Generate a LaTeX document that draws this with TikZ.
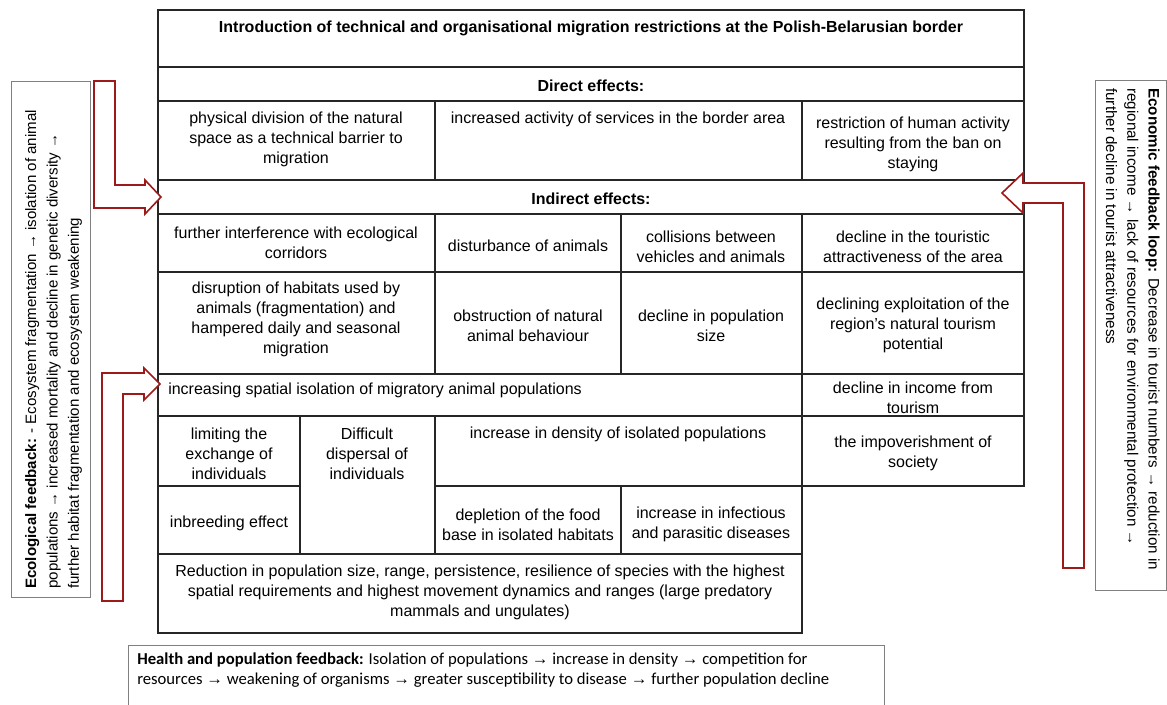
\documentclass[tikz,border=0pt]{standalone}
\usepackage{fontspec}
\setmainfont{Liberation Sans}
\newfontfamily\narrowfont{Carlito}
\newfontfamily\arrowfont{Liberation Sans}
\usepackage{tikz}
\usetikzlibrary{positioning}
\definecolor{arrowred}{HTML}{9C1A1A}
\definecolor{boxgray}{HTML}{808080}
\newcommand{\fbarrow}{{\arrowfont →}}

\begin{document}
\begin{tikzpicture}[x=0.75pt,y=-0.75pt,
	cellline/.style={line width=0.9pt,black!85},
	txt/.style={font=\fontsize{12}{15}\selectfont,align=center,inner sep=0pt,yshift=-1pt},
	hdr/.style={txt,font=\fontsize{12}{15}\selectfont\bfseries},
	fbbox/.style={draw=boxgray,line width=0.75pt},
	fbtext/.style={font=\fontsize{11.3}{16}\selectfont,align=left,inner sep=0pt},
	bentarrow/.style={draw=arrowred,line width=1.2pt,fill=white,line join=miter}]
	\path[use as bounding box,fill=white] (0,0) rectangle (1167,704);
	% table frame and grid
	\draw[cellline] (158,10) -- (1024,10) -- (1024,486) -- (802,486) -- (802,633) -- (158,633) -- cycle;
	\foreach \y in {67,101,180,214,272,374,416}
		\draw[cellline] (158,\y) -- (1024,\y);
	\draw[cellline] (158,486) -- (300,486) (435,486) -- (802,486);
	\draw[cellline] (158,554) -- (802,554);
	\draw[cellline] (435,101) -- (435,180) (802,101) -- (802,180);
	\draw[cellline] (435,214) -- (435,374) (621,214) -- (621,374) (802,214) -- (802,486);
	\draw[cellline] (300,416) -- (300,554) (435,416) -- (435,554) (621,486) -- (621,554);
	% table texts
	\node[hdr] (title) at (591,27) {Introduction of technical and organisational migration restrictions at the Polish-Belarusian border};
	\node[hdr] (direct) at (591,84) {Direct effects:};
	\node[txt] (phys) at (296,138) {physical division of the natural\\space as a technical barrier to\\migration};
	\node[txt] (serv) at (618,118) {increased activity of services in the border area};
	\node[txt] (restr) at (913,143) {restriction of human activity\\resulting from the ban on\\staying};
	\node[hdr] (indirect) at (591,197) {Indirect effects:};
	\node[txt] (corr) at (296,241) {further interference with ecological\\corridors};
	\node[txt] (dist) at (528,244) {disturbance of animals};
	\node[txt] (coll) at (711,245) {collisions between\\vehicles and animals};
	\node[txt] (tour) at (913,245) {decline in the touristic\\attractiveness of the area};
	\node[txt] (habit) at (296,318) {disruption of habitats used by\\animals (fragmentation) and\\hampered daily and seasonal\\migration};
	\node[txt] (obstr) at (528,324) {obstruction of natural\\animal behaviour};
	\node[txt] (popsize) at (711,324) {decline in population\\size};
	\node[txt] (exploit) at (913,324) {declining exploitation of the\\region's natural tourism\\potential};
	\node[txt,anchor=west] (isol) at (168,389) {increasing spatial isolation of migratory animal populations};
	\node[txt] (income) at (913,396) {decline in income from\\tourism};
	\node[txt] (limit) at (229,452) {limiting the\\exchange of\\individuals};
	\node[txt] (dispersal) at (367,452) {Difficult\\dispersal of\\individuals};
	\node[txt] (density) at (618,433) {increase in density of isolated populations};
	\node[txt] (impov) at (913,452) {the impoverishment of\\society};
	\node[txt] (inbreed) at (229,522) {inbreeding effect};
	\node[txt] (food) at (528,523) {depletion of the food\\base in isolated habitats};
	\node[txt] (infect) at (711,523) {increase in infectious\\and parasitic diseases};
	\node[txt] (reduct) at (480,591) {Reduction in population size, range, persistence, resilience of species with the highest\\spatial requirements and highest movement dynamics and ranges (large predatory\\mammals and ungulates)};
	% feedback boxes
	\draw[fbbox] (11,81) rectangle (90,597);
	\node[fbtext,rotate=90,anchor=north west] (ecotxt) at (25,589) {\textbf{Ecological feedback:} - Ecosystem fragmentation \fbarrow{} isolation of animal\\populations \fbarrow{} increased mortality and decline in genetic diversity \fbarrow\\further habitat fragmentation and ecosystem weakening};
	\draw[fbbox] (1095,80) rectangle (1166,590);
	\node[fbtext,rotate=-90,anchor=north west,font=\fontsize{11.4}{16}\selectfont] (econtxt) at (1160,88) {\textbf{Economic feedback loop:} Decrease in tourist numbers \fbarrow{} reduction in\\regional income \fbarrow{} lack of resources for environmental protection \fbarrow\\further decline in tourist attractiveness};
	\draw[fbbox] (128,645) rectangle (884,712);
	\node[fbtext,anchor=north west,font=\narrowfont\fontsize{12.5}{15}\selectfont] (healthtxt) at (137,653) {\textbf{Health and population feedback:} Isolation of populations \fbarrow{} increase in density \fbarrow{} competition for\\resources \fbarrow{} weakening of organisms \fbarrow{} greater susceptibility to disease \fbarrow{} further population decline};
	% feedback arrows
	\draw[bentarrow] (94,81) -- (115,81) -- (115,185) -- (145,185) -- (145,180) -- (161,197) -- (145,214) -- (145,208) -- (94,208) -- cycle;
	\draw[bentarrow] (102,601) -- (102,373) -- (144,373) -- (144,368) -- (160,384) -- (144,400) -- (144,394) -- (123,394) -- (123,601) -- cycle;
	\draw[bentarrow] (1084,568) -- (1084,183) -- (1023,183) -- (1023,173) -- (1002,193) -- (1023,213) -- (1023,203) -- (1063,203) -- (1063,568) -- cycle;
\end{tikzpicture}
\end{document}
